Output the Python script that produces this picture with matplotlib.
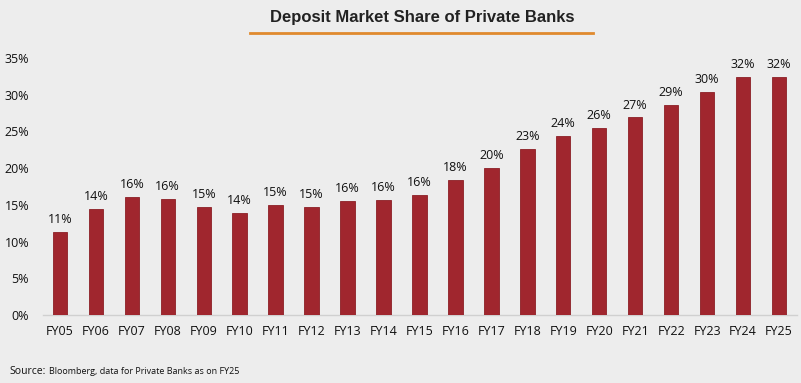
import numpy as np
import matplotlib.pyplot as plt

years = ["FY05", "FY06", "FY07", "FY08", "FY09", "FY10", "FY11", "FY12", "FY13", "FY14", "FY15",
         "FY16", "FY17", "FY18", "FY19", "FY20", "FY21", "FY22", "FY23", "FY24", "FY25"]
share = [11.3, 14.4, 16.1, 15.8, 14.7, 13.9, 15.0, 14.7, 15.5, 15.7, 16.3,
         18.4, 20.0, 22.6, 24.4, 25.5, 26.9, 28.6, 30.4, 32.4, 32.4]

BG = "#ededed"
BAR = "#a0262e"
TEXT = "#111111"

fig = plt.figure(figsize=(8.01, 3.83), dpi=100, facecolor=BG)
ax = fig.add_axes([0.0537, 0.1775, 0.9413, 0.6711], facecolor=BG)

x = np.arange(len(years))
ax.bar(x, share, width=0.4, color=BAR, edgecolor="#8c1f26", linewidth=0.6, zorder=3)

for xi, v in zip(x, share):
    ax.text(xi, v + 0.8, f"{v:.0f}%", ha="center", va="bottom", fontsize=9,
            family="Open Sans", color=TEXT)

ax.set_xlim(-0.47, 20.5)
ax.set_ylim(0, 35)
ax.set_yticks(np.arange(0, 36, 5))
ax.set_yticklabels([f"{t}%" for t in range(0, 36, 5)], fontsize=9, family="Open Sans", color=TEXT)
ax.set_xticks(x)
ax.set_xticklabels(years, fontsize=9, family="Open Sans", color=TEXT)
ax.tick_params(axis="both", length=0)
ax.tick_params(axis="y", pad=10)
ax.tick_params(axis="x", pad=7)

for side in ["top", "right", "left"]:
    ax.spines[side].set_visible(False)
ax.spines["bottom"].set_color("#d0d0d0")
ax.spines["bottom"].set_linewidth(1.0)

fig.text(0.527, 0.955, "Deposit Market Share of Private Banks", ha="center", va="center",
         fontsize=12, fontweight="bold", family="Liberation Sans", color="#222222")
fig.add_artist(plt.Line2D([250 / 801, 593 / 801], [1 - 33 / 383, 1 - 33 / 383],
                          color="#e08a2e", linewidth=2))

fig.text(0.012, 0.03, "Source:", ha="left", va="center", fontsize=7.5,
         family="Open Sans", color=TEXT)
fig.text(0.061, 0.03, "Bloomberg, data for Private Banks as on FY25", ha="left", va="center",
         fontsize=6.5, family="Open Sans", color=TEXT)

fig.savefig("out.png", dpi=100, facecolor=BG)
